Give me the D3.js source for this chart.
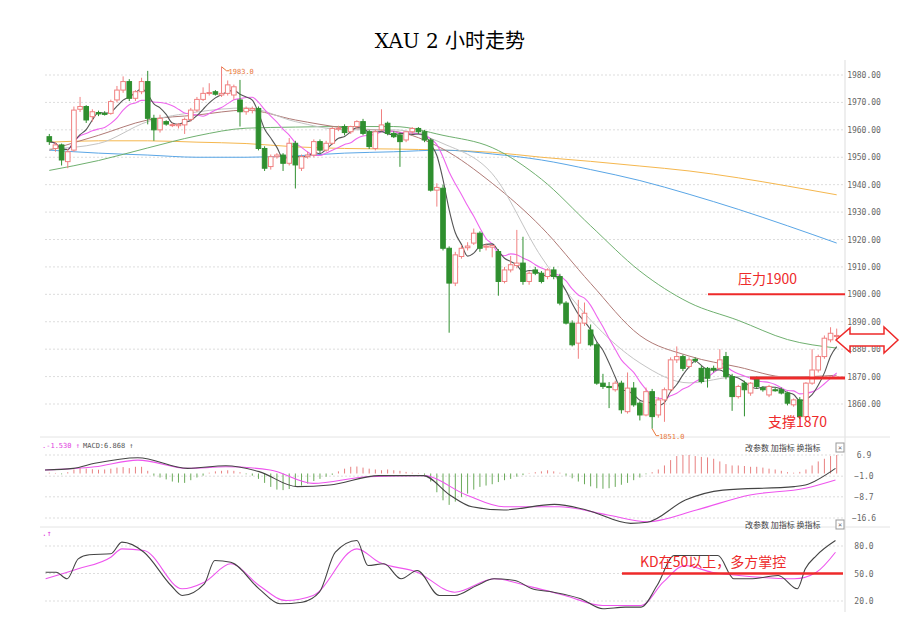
<!DOCTYPE html>
<html><head><meta charset="utf-8">
<script src="https://cdn.jsdelivr.net/npm/d3@7"></script>
<style>
body{margin:0;background:#fff;}
text{font-family:"DejaVu Sans Mono",monospace;}
</style></head>
<body><svg id="c" width="900" height="619"></svg>
<script>
// OHLC, 2 hour candles
var candles = [
[1957.5,1958.5,1954.5,1955.7],[1953.2,1955.5,1952,1954.5],[1954.5,1955,1947,1949],[1948.4,1953,1946,1952],
[1952.6,1968.5,1952,1967.2],[1967.5,1972,1966.5,1968.5],[1968.5,1969,1962.5,1963.6],[1964.8,1967.5,1963,1966.6],
[1966.3,1967,1965,1965.8],[1966,1966.8,1965.2,1965.9],[1966,1971,1965.5,1970.3],[1970.9,1976,1970,1974.5],
[1974.5,1979.5,1973.5,1977.6],[1977.6,1978.5,1970.5,1971.5],[1971.5,1974.5,1970.5,1973.9],[1973.9,1979,1973,1977.6],
[1977.6,1981.5,1962,1964.2],[1964.2,1965.5,1956,1960],[1960,1965.5,1959,1964.2],[1963,1963.5,1961.5,1962.1],
[1961.8,1962.5,1961,1961.9],[1961.5,1962.5,1960.5,1962],[1961.8,1964.5,1958.5,1963.8],[1963.8,1968,1963,1967.2],
[1967.2,1972,1966.5,1971.1],[1971.1,1975.5,1970.5,1973.3],[1973.3,1977,1972.5,1973.6],[1973.9,1974.5,1972.5,1973],
[1972.7,1983,1972,1973.3],[1973.3,1978,1972.5,1976.4],[1972.7,1976.5,1971,1975.7],[1970.9,1978.2,1961.2,1966.6],
[1966.6,1968.5,1965.5,1967.8],[1967.2,1968.5,1966,1967.8],[1967.8,1968.5,1952.5,1953.2],[1953.2,1954,1945,1946],
[1946.6,1951,1945.5,1950.2],[1950.2,1951.5,1949.5,1950.8],[1950.8,1951.5,1945,1947.8],[1947.8,1957,1947,1955.1],
[1955.1,1956,1938.6,1947.2],[1946,1951,1945,1950.2],[1950.2,1952,1949.5,1950.8],[1950.8,1956.5,1950,1955.7],
[1955.7,1956.5,1951.5,1952.6],[1952.6,1956,1952,1955.1],[1955.1,1961,1954.5,1960.5],[1960.5,1961.5,1959.5,1960.6],
[1961.2,1962,1958,1959],[1959.3,1961.5,1958.5,1961.2],[1961.2,1963.5,1960.5,1963],[1963,1964,1958,1958.7],
[1959.3,1960,1953,1953.9],[1953.2,1960,1952.5,1959.3],[1960,1967.5,1959.5,1961.8],[1962.4,1963,1958,1958.7],
[1958.7,1959.5,1957,1957.5],[1958.1,1959,1946.5,1955.7],[1956.3,1959.5,1955.5,1959.3],[1959.3,1961,1958.5,1960.5],
[1960.5,1961,1958.5,1959.3],[1959.3,1960,1955.5,1956.3],[1956.3,1957,1937.5,1938],[1938,1940.5,1932,1939],
[1938.7,1940,1916,1916.8],[1916.8,1917.5,1886,1904.1],[1904.1,1915.5,1903,1914.4],[1913.8,1918,1913,1916.8],
[1917,1919,1916,1917.6],[1918.7,1924,1918,1922.3],[1922.3,1923,1915.5,1916.8],[1917.2,1918.5,1916,1917.6],
[1917.2,1918,1913.5,1917.8],[1915.6,1916.5,1899.5,1904.7],[1904.7,1910,1904,1908.9],[1908.9,1914,1908,1910.8],
[1910.5,1923.5,1909.5,1911.4],[1911.4,1921,1903.5,1904.7],[1904.7,1908.5,1903.5,1907.7],[1908.9,1910,1907,1907.7],
[1907.7,1908.5,1904,1904.7],[1906.5,1909.5,1905.5,1908.9],[1908.9,1910,1905.5,1906.5],[1906.5,1907.5,1896,1896.8],
[1896.8,1897.5,1889,1889.5],[1889.5,1890.5,1881,1881.6],[1882.2,1898,1876.5,1889.5],[1889.5,1897,1888.5,1893.1],
[1887,1889,1881,1881.6],[1881.6,1882.5,1867,1867.6],[1867.6,1871,1865.5,1866.4],[1866.4,1868,1858.5,1866],
[1865.2,1868.5,1864.5,1867.6],[1867.6,1868.5,1856.5,1857.9],[1857.2,1871.5,1856.5,1865.8],[1865.8,1868,1859,1859.7],
[1860.3,1861,1854,1856],[1856,1866,1855.5,1864.5],[1864.5,1865.5,1851,1855.4],[1856,1862.5,1855,1861.5],
[1861.5,1866,1853.5,1865.2],[1865.2,1877,1864.5,1876.1],[1876.1,1881,1875,1877.3],[1877.3,1878,1872,1873],
[1873.7,1877,1873,1876.1],[1876.3,1877,1875,1875.9],[1873,1874,1867.5,1868.2],[1873,1873.5,1866,1869.4],
[1873,1874,1871.5,1872.4],[1873,1880,1872.5,1876.1],[1877.3,1879,1869,1870],[1870,1871,1857.5,1862.7],
[1862.7,1867,1862,1866.4],[1867.6,1868.5,1855.5,1865.2],[1864,1868,1863,1867.6],[1869.4,1870,1865.5,1866.4],
[1865.8,1866.5,1864.5,1865.2],[1863.3,1867,1862.5,1866.4],[1865.2,1866,1864.5,1865],[1865.2,1866,1863.5,1864],
[1864,1864.5,1859.5,1860.3],[1859.7,1862,1859,1861.5],[1861.5,1862.5,1854.5,1855.4],[1855.4,1868,1855,1867.6],
[1867.6,1880,1867,1872.4],[1872.4,1878,1871.5,1877.3],[1877.3,1885,1876.5,1884],[1883.4,1888,1882.5,1885.8],
[1884.6,1887.5,1883.5,1885]
];

// slow moving averages, read every 8 candles
var maIdx = [0,8,16,24,32,40,48,56,64,72,80,88,96,104,112,120,128];
var maGray = [1953,1955,1963,1966.5,1968,1963,1960,1960,1955,1944,1913.6,1890.6,1875,1867.7,1870,1870,1869.4];
var maBrown = [1952.6,1958,1963.6,1965.4,1967.2,1963.6,1960.7,1959.5,1953,1940.5,1924.5,1904,1885,1877.5,1873.5,1869.8,1870.5];
var maGreen = [1945.2,1948.8,1953.4,1957.8,1960.6,1961,1961.2,1961.2,1958,1953.5,1942,1925,1908.5,1897,1890.5,1883.5,1880.4];
var maBlue = [1952.6,1951.5,1950.8,1950,1950,1950.5,1951.5,1952,1952.6,1951.2,1949,1945.5,1941.5,1936.5,1931,1925,1918.7];
var maOrange = [1955.5,1956,1956,1955.5,1955,1953.8,1953.2,1953,1952.6,1951.8,1950,1948.5,1946.8,1945,1942.5,1939.5,1936.3];

var priceTicks = [1860,1870,1880,1890,1900,1910,1920,1930,1940,1950,1960,1970,1980];

// MACD
var macdHist = [0.3,0.2,-0.3,0.5,1.5,2,1.8,1.6,1.4,1.5,1.8,2.2,2.4,2,2.5,2.5,1,-0.8,-1.5,-2.2,-3,-3.4,-3.5,-2.5,-1.5,-0.8,0.3,0.8,1,1.2,1,0.5,-0.3,
-0.8,-2,-3.5,-5,-6,-6.2,-5.8,-5,-4.5,-3.8,-2.8,-2,-1.2,-0.5,0.8,1.8,2.5,2.6,2.2,1.8,1.5,1.2,1.5,1.2,1,0.6,0.3,0.2,-0.5,
-3,-7,-10,-11.7,-10.5,-8.8,-7.5,-6,-5,-4.5,-4,-3.2,-2.5,-2,-1.2,-0.6,0.2,0.5,0.8,1.2,0.8,0.3,-0.8,-1.8,-3,-4,-4.8,-5.5,-5.7,-5.5,-5,-4.2,-3.5,-2.5,-1.5,
-0.3,0.5,1.5,3,5,6.5,6.9,6.9,6.5,6.2,6,5.5,4.5,3.5,3,3,2.8,2.5,2.5,2.2,1.8,1.5,1,0.5,0.3,0.6,1.5,3,4.5,5.5,6.5,6.9];
var difIdx = [-0.7,3.9,7.4,14.4,22.5,28.7,34.1,40.3,45.6,53.6,60.8,65.1,68.7,73.9,82.1,87.3,94.5,97.2,103.4,109.5,121.1,122.9,127.8];
var difVal = [1.3,1.9,3.8,5.9,1.9,2.9,0.7,-4.9,-4.3,-0.8,-0.8,-8,-12.4,-13.6,-11.5,-13.6,-18.6,-18.2,-9.9,-6.2,-4.9,-4.3,1.9];
var deaIdx = [-0.7,7.4,14.4,22.5,28.7,35.9,42.9,51.8,60.8,67.8,73.9,82.9,90.8,97.2,105.2,113.9,122.9,127.8];
var deaVal = [1.3,2.5,5,1.9,2.5,1.3,-3.7,-1.2,-0.8,-8,-12.4,-12.4,-15.5,-18,-13.6,-8,-5.5,-2.4];
var macdTicks = [6.9,-1.0,-8.7,-16.6];

// KD
var kIdx = [-0.6,1.1,2.9,4.7,6.5,10,11.8,15.4,19.8,21.6,25.2,26.9,29.5,34.1,37.5,41.1,43.9,46.5,50,51.8,54.4,57.2,59.8,63.4,65.9,69.5,72.3,75.7,78.5,82,86.4,90,93.6,96.2,98.8,101.6,105.2,108.7,111.3,113.9,118.5,121.6,122.9,124.7,127.8];
var kVal = [51.4,51.4,44.2,66,70.4,71.5,84.2,73.2,36.9,26,38.8,64.2,62.3,33.3,17,18.7,29.6,73.2,86,58.7,60.6,44.2,53.3,26,26,36.9,44.2,42.4,33.3,29.6,22.4,11.5,13.3,13.3,36.9,69.6,69.6,69.6,44.2,44.2,47.8,33.3,55.1,69.6,86];
var dIdx = [-0.6,4.7,10,11.8,15.4,21.6,25.2,29.5,34.1,38.5,42.9,50,53.6,59.8,65.9,72.3,78.5,83.8,90,96.2,99.8,103.3,107.7,112.1,121.1,124.7,127.8];
var dVal = [44.2,55.1,67.8,76.9,75.1,33.3,40.5,60.6,36.9,20.5,26,76.9,62.3,51.4,29.6,44.2,35.1,26,15.1,15.1,40.5,58.7,51.4,47.8,44.2,51.4,73.2];
var kdTicks = [80,50,20];

var svg = d3.select("#c");
var up = "#f08080", down = "#2f8f2f", red = "#ee2a2a";

var x = d3.scaleLinear().domain([0, candles.length - 1]).range([49.3, 836.7]);
var y = d3.scaleLinear().domain([1860, 1980]).range([404, 75]);
var ym = d3.scaleLinear().domain([-16.6, 6.9]).range([518, 455]);
var yk = d3.scaleLinear().domain([20, 80]).range([601, 546]);

svg.append("text").attr("x", 450).attr("y", 48).attr("text-anchor", "middle")
    .style("font-family", "'DejaVu Serif','Noto Sans CJK SC'").style("font-size", "20px").text("XAU 2 小时走势");

// frames
svg.append("line").attr("x1", 845).attr("x2", 845).attr("y1", 60).attr("y2", 612).attr("stroke", "#ddd");
[437, 527].forEach(function(v){
  svg.append("line").attr("x1", 40).attr("x2", 890).attr("y1", v).attr("y2", v).attr("stroke", "#e4e4e4");
});

function grid(scale, ticks, fmt) {
  var g = svg.append("g");
  g.selectAll("line").data(ticks).enter().append("line")
      .attr("x1", 45).attr("x2", 845).attr("y1", scale).attr("y2", scale)
      .attr("stroke", "#ddd").attr("stroke-dasharray", "2,2");
  g.selectAll("text").data(ticks).enter().append("text")
      .attr("x", 864).attr("y", function(d){ return scale(d) + 3; })
      .attr("text-anchor", "middle").attr("fill", "#666").style("font-size", "8px")
      .text(fmt);
}
grid(y, priceTicks, d3.format(".2f"));
grid(ym, macdTicks, function(d){ return d.toFixed(1).replace("-", "−"); });
grid(yk, kdTicks, d3.format(".1f"));

// moving averages
function maLine(vals, color) {
  var line = d3.line().curve(d3.curveMonotoneX)
      .x(function(d, i){ return x(maIdx[i]); }).y(function(d){ return y(d); });
  svg.append("path").datum(vals).attr("d", line).attr("fill", "none").attr("stroke", color).attr("stroke-width", 1);
}
maLine(maOrange, "#f5b74e");
maLine(maBlue, "#5aa6e6");
maLine(maGreen, "#6fb06f");
maLine(maBrown, "#b07a76");
maLine(maGray, "#c4c4c4");

function sma(n) {
  return candles.map(function(c, i){
    var s = candles.slice(Math.max(0, i - n + 1), i + 1);
    return d3.mean(s, function(d){ return d[3]; });
  });
}
var fast = d3.line().curve(d3.curveMonotoneX).x(function(d, i){ return x(i); }).y(function(d){ return y(d); });
svg.append("path").datum(sma(10)).attr("d", fast).attr("fill", "none").attr("stroke", "#ee66ee").attr("stroke-width", 1.1);
svg.append("path").datum(sma(5)).attr("d", fast).attr("fill", "none").attr("stroke", "#555").attr("stroke-width", 1.1);

// candles
var cg = svg.append("g").selectAll("g").data(candles).enter().append("g");
cg.append("line")
    .attr("x1", function(d, i){ return x(i); }).attr("x2", function(d, i){ return x(i); })
    .attr("y1", function(d){ return y(d[1]); }).attr("y2", function(d){ return y(d[2]); })
    .attr("stroke", function(d){ return d[3] >= d[0] ? up : down; });
cg.append("rect")
    .attr("x", function(d, i){ return x(i) - 2.3; }).attr("width", 4.6)
    .attr("y", function(d){ return y(Math.max(d[0], d[3])); })
    .attr("height", function(d){ return Math.max(1, Math.abs(y(d[0]) - y(d[3]))); })
    .attr("fill", function(d){ return d[3] >= d[0] ? "#fff" : down; })
    .attr("stroke", function(d){ return d[3] >= d[0] ? up : down; });

// high / low markers
var hiI = d3.maxIndex(candles, function(d){ return d[1]; });
var loI = d3.minIndex(candles, function(d){ return d[2]; });
svg.append("path").attr("d", "M" + x(hiI) + "," + y(candles[hiI][1]) + "l5,4h3").attr("fill", "none").attr("stroke", "#e8773a");
svg.append("text").attr("x", x(hiI) + 7).attr("y", y(candles[hiI][1]) + 7).attr("fill", "#e8773a").style("font-size", "7px").text(candles[hiI][1].toFixed(1));
svg.append("path").attr("d", "M" + x(loI) + "," + y(candles[loI][2]) + "l4,7h3").attr("fill", "none").attr("stroke", "#e8773a");
svg.append("text").attr("x", x(loI) + 7).attr("y", y(candles[loI][2]) + 10).attr("fill", "#e8773a").style("font-size", "7px").text(candles[loI][2].toFixed(1));

// annotations
svg.append("line").attr("x1", 708).attr("x2", 845).attr("y1", y(1900)).attr("y2", y(1900)).attr("stroke", red).attr("stroke-width", 2);
svg.append("text").attr("x", 738).attr("y", y(1900) - 10).attr("fill", red).style("font-family", "'Noto Sans CJK SC'").style("font-size", "14px").text("压力1900");
svg.append("line").attr("x1", 750).attr("x2", 845).attr("y1", y(1869.5)).attr("y2", y(1869.5)).attr("stroke", red).attr("stroke-width", 3);
svg.append("text").attr("x", 768).attr("y", 427).attr("fill", red).style("font-family", "'Noto Sans CJK SC'").style("font-size", "14px").text("支撑1870");
svg.append("path").attr("d", "M836,340 L850,328 L850,334 L884,334 L884,327 L898,340 L884,353 L884,346 L850,346 L850,352 Z")
    .attr("fill", "#fff").attr("stroke", red).attr("stroke-width", 1.5);

// MACD panel
svg.append("text").attr("x", 42).attr("y", 448).attr("fill", "#e040e0").style("font-size", "7px").text(".-1.530 ↑");
svg.append("text").attr("x", 83).attr("y", 448).attr("fill", "#555").style("font-size", "7px").text("MACD:6.868 ↑");
[455, 532].forEach(function(v){
  svg.append("text").attr("x", 745).attr("y", v - 4).attr("fill", "#444").style("font-family", "'Noto Sans CJK SC'").style("font-size", "8px").text("改参数  加指标  换指标");
  svg.append("rect").attr("x", 836).attr("y", v - 12).attr("width", 8).attr("height", 9).attr("fill", "#fff").attr("stroke", "#999");
  svg.append("text").attr("x", 840).attr("y", v - 5).attr("text-anchor", "middle").attr("fill", "#666").style("font-size", "7px").text("×");
});
svg.append("g").selectAll("line").data(macdHist).enter().append("line")
    .attr("x1", function(d, i){ return x(i); }).attr("x2", function(d, i){ return x(i); })
    .attr("y1", ym(0)).attr("y2", function(d){ return ym(d); })
    .attr("stroke", function(d){ return d >= 0 ? "#e88080" : "#6aaa5a"; }).attr("stroke-width", 1);
function ind(idx, vals, scale, color) {
  var line = d3.line().curve(d3.curveMonotoneX)
      .x(function(d, i){ return x(idx[i]); }).y(function(d){ return scale(d); });
  svg.append("path").datum(vals).attr("d", line).attr("fill", "none").attr("stroke", color).attr("stroke-width", 1.1);
}
ind(deaIdx, deaVal, ym, "#ee55ee");
ind(difIdx, difVal, ym, "#444");

// KD panel
svg.append("text").attr("x", 42).attr("y", 536).attr("fill", "#e040e0").style("font-size", "8px").text(".↑");
ind(dIdx, dVal, yk, "#ee55ee");
ind(kIdx, kVal, yk, "#444");
svg.append("line").attr("x1", 622).attr("x2", 843).attr("y1", yk(50)).attr("y2", yk(50)).attr("stroke", red).attr("stroke-width", 2.5);
svg.append("text").attr("x", 640).attr("y", 567).attr("fill", red).style("font-family", "'Noto Sans CJK SC'").style("font-size", "14px").text("KD在50以上，多方掌控");
</script></body></html>
